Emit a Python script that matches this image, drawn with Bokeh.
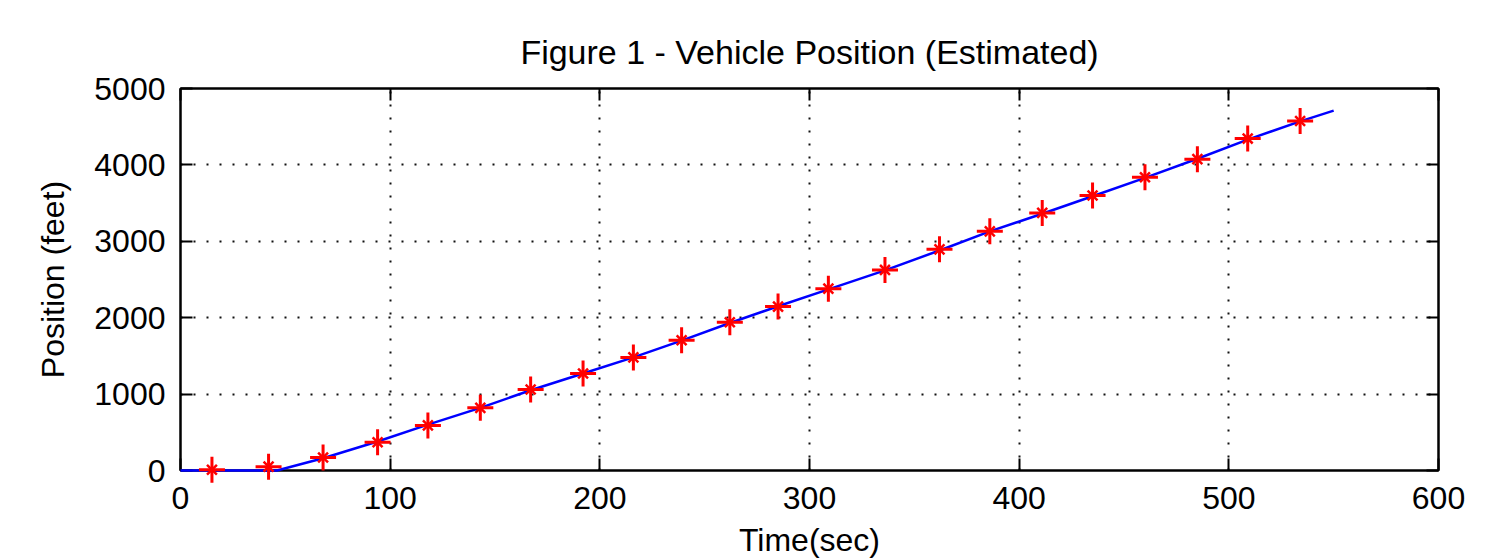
from bokeh.plotting import figure
from bokeh.models import FixedTicker, LinearAxis, CustomJSTickFormatter, Range1d
from bokeh.embed import file_html
from bokeh.resources import INLINE

# ---- data ----
est_time = [15, 42, 68, 94, 118, 143, 167, 192, 216, 239, 262, 285, 309, 336, 362, 386, 411, 435, 460, 485, 509, 534]
est_pos = [10, 50, 170, 370, 590, 820, 1060, 1270, 1480, 1705, 1940, 2145, 2380, 2625, 2895, 3130, 3372, 3600, 3838, 4075, 4345, 4575]

true_time = [0, 46, 68, 94, 118, 143, 167, 192, 216, 239, 262, 285, 309, 336, 362, 386, 411, 435, 460, 485, 509, 534, 550]
true_pos = [0, 0, 160, 380, 600, 820, 1050, 1270, 1480, 1700, 1930, 2150, 2370, 2620, 2880, 3130, 3360, 3590, 3830, 4080, 4330, 4570, 4710]

x_ticks = [0, 100, 200, 300, 400, 500, 600]
y_ticks = [0, 1000, 2000, 3000, 4000, 5000]

title_text = "Figure 1 - Vehicle Position (Estimated)"
x_label = "Time(sec)"
y_label = "Position (feet)"

FONT = "Liberation Sans"

p = figure(width=1498, height=560, x_range=Range1d(0, 600), y_range=Range1d(0, 5000),
           output_backend="svg", toolbar_location=None,
           min_border_left=180, min_border_right=60, min_border_top=88, min_border_bottom=90,
           background_fill_color="white", border_fill_color="white")

p.title.text = title_text
p.title.align = "center"
p.title.text_font = FONT
p.title.text_font_size = "34px"
p.title.text_font_style = "normal"
p.title.text_color = "black"
p.title.standoff = 35

p.outline_line_color = "black"
p.outline_line_width = 2

for ax in (p.xaxis[0], p.yaxis[0]):
    ax.axis_line_width = 2
    ax.axis_line_color = "black"
    ax.major_tick_in = 12
    ax.major_tick_out = 0
    ax.major_tick_line_width = 2
    ax.minor_tick_line_color = None
    ax.major_label_text_font = FONT
    ax.major_label_text_font_size = "32px"
    ax.major_label_text_color = "black"
    ax.axis_label_text_font = FONT
    ax.axis_label_text_font_size = "32px"
    ax.axis_label_text_font_style = "normal"
    ax.axis_label_text_color = "black"

p.xaxis[0].ticker = FixedTicker(ticks=x_ticks)
p.yaxis[0].ticker = FixedTicker(ticks=y_ticks)
p.xaxis[0].axis_label = x_label
p.yaxis[0].axis_label = y_label
p.xaxis[0].major_label_standoff = 16
p.xaxis[0].axis_label_standoff = 10
p.yaxis[0].major_label_standoff = 15
p.yaxis[0].axis_label_standoff = 20

blank = CustomJSTickFormatter(code="return ''")
top_ax = LinearAxis(ticker=FixedTicker(ticks=x_ticks), formatter=blank)
right_ax = LinearAxis(ticker=FixedTicker(ticks=y_ticks), formatter=blank)
for ax in (top_ax, right_ax):
    ax.axis_line_width = 2
    ax.axis_line_color = "black"
    ax.major_tick_in = 12
    ax.major_tick_out = 0
    ax.major_tick_line_width = 2
    ax.minor_tick_line_color = None
    ax.major_label_text_font_size = "1px"
    ax.major_label_standoff = 0
p.add_layout(top_ax, "above")
p.add_layout(right_ax, "right")

p.xgrid.ticker = FixedTicker(ticks=x_ticks)
p.ygrid.ticker = FixedTicker(ticks=y_ticks)
for g in (p.xgrid[0], p.ygrid[0]):
    g.grid_line_color = "#111111"
    g.grid_line_width = 2
    g.grid_line_dash = "2 11"

p.line(true_time, true_pos, line_color="#0000ff", line_width=2.5, level="overlay")
p.scatter(est_time, est_pos, marker="cross", size=26, line_color="#ff0000", line_width=3, level="overlay")
p.scatter(est_time, est_pos, marker="x", size=14, line_color="#ff0000", line_width=2.5, level="overlay")

open("out.html", "w").write(file_html(p, INLINE))
